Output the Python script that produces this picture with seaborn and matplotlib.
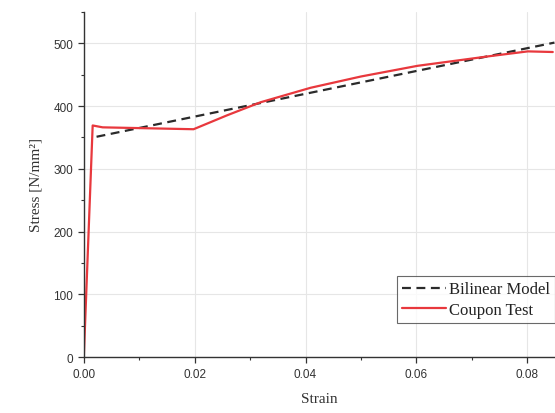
import numpy as np
import pandas as pd
import matplotlib
matplotlib.use("Agg")
import matplotlib.pyplot as plt
import seaborn as sns
from matplotlib.ticker import MultipleLocator

# Data
coupon_strain = [0.0, 0.0016, 0.0034, 0.0198, 0.0258, 0.0319, 0.0409, 0.050, 0.0602, 0.0729, 0.0801, 0.0846]
coupon_stress = [0, 369, 366, 363, 385, 406, 429, 447, 464, 479, 487, 486]
bilinear_strain = [0.0023, 0.0849]
bilinear_stress = [351, 501]

sns.set_theme(style="white")
plt.rcParams['font.family'] = ['Liberation Sans', 'DejaVu Sans']

fig = plt.figure(figsize=(5.55, 4.14), dpi=100)
ax = fig.add_axes([0.151, 0.135, 0.849, 0.834])

df_b = pd.DataFrame({"strain": bilinear_strain, "stress": bilinear_stress})
df_c = pd.DataFrame({"strain": coupon_strain, "stress": coupon_stress})

sns.lineplot(data=df_b, x="strain", y="stress", ax=ax, color="#2b2b2b",
             linestyle=(0, (4, 2.5)), linewidth=1.6, label="Bilinear Model", sort=False)
sns.lineplot(data=df_c, x="strain", y="stress", ax=ax, color="#e8383d",
             linewidth=1.6, label="Coupon Test", sort=False)

ax.set_xlim(0, 0.085)
ax.set_ylim(0, 550)
ax.set_xticks([0.0, 0.02, 0.04, 0.06, 0.08])
ax.set_xticklabels(["0.00", "0.02", "0.04", "0.06", "0.08"])
ax.set_yticks([0, 100, 200, 300, 400, 500])
ax.xaxis.set_minor_locator(MultipleLocator(0.01))
ax.yaxis.set_minor_locator(MultipleLocator(50))

ax.grid(True, which="major", color="#e6e6e6", linewidth=0.8)
for s in ["top", "right"]:
    ax.spines[s].set_visible(False)
for s in ["left", "bottom"]:
    ax.spines[s].set_color("#333333")
    ax.spines[s].set_linewidth(1.0)

ax.tick_params(axis="both", which="major", direction="out", length=4, width=0.9,
               color="#333333", labelsize=8.5, labelcolor="#333333", bottom=True, left=True)
ax.tick_params(axis="both", which="minor", direction="out", length=2.5, width=0.8,
               color="#333333", bottom=True, left=True)

serif = ["Liberation Serif", "DejaVu Serif"]
ax.set_xlabel("Strain", family=serif, fontsize=11, color="#333333", labelpad=9)
ax.set_ylabel("Stress [N/mm²]", family=serif, fontsize=11, color="#333333", labelpad=8)

leg = ax.legend(loc="lower right", bbox_to_anchor=(1.0, 0.10), frameon=True, fancybox=False,
                prop={"family": serif, "size": 12}, handlelength=2.6, handletextpad=0.2,
                borderpad=0.3, labelspacing=0.25, borderaxespad=0.0)
leg.get_frame().set_edgecolor("#444444")
leg.get_frame().set_linewidth(0.8)
for t in leg.get_texts():
    t.set_color("#222222")

fig.savefig("out.png", dpi=100)
